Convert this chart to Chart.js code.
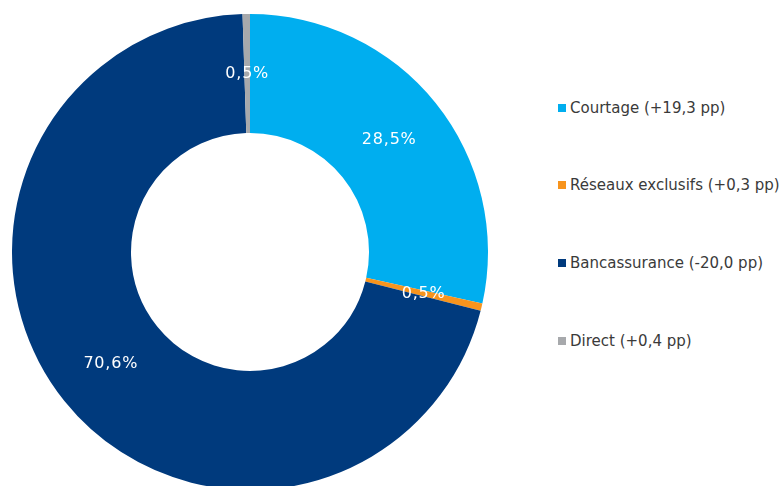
<!DOCTYPE html>
<html lang="fr">
<head>
<meta charset="utf-8">
<title>Répartition par canal</title>
<script src="https://cdn.jsdelivr.net/npm/chart.js@4"></script>
<style>
  html, body { margin: 0; padding: 0; background: #fff; overflow: hidden; }
  body { width: 779px; height: 486px; position: relative; font-family: "DejaVu Sans", Verdana, sans-serif; }
  .chart-box { position: absolute; left: 12px; top: 14px; width: 476px; height: 476px; }
  .legend { position: absolute; left: 558px; top: 98px; margin: 0; padding: 0; list-style: none; }
  .legend li { display: flex; align-items: center; height: 19px; margin-bottom: 58.7px; font-size: 15px; color: #3a3a3a; white-space: nowrap; }
  .legend .swatch { width: 8px; height: 8px; margin-right: 4px; flex: none; }
</style>
</head>
<body>
<div class="chart-box"><canvas id="channelChart"></canvas></div>
<ul class="legend" id="channelLegend"></ul>

<script>
//! Data
const categories = ['Courtage', 'Réseaux exclusifs', 'Bancassurance', 'Direct'];
const shares = [28.5, 0.5, 70.6, 0.5];
const changes = ['+19,3', '+0,3', '-20,0', '+0,4'];
const colors = ['#00AEEF', '#F7941D', '#003A7D', '#A7A9AC'];

const frNumber = v => v.toFixed(1).replace('.', ',');

//! Value labels in the middle of each ring segment
const sliceLabels = {
  id: 'sliceLabels',
  afterDatasetsDraw(chart) {
    const ctx = chart.ctx;
    const meta = chart.getDatasetMeta(0);
    ctx.save();
    ctx.fillStyle = '#fff';
    ctx.font = '16px "DejaVu Sans", Verdana, sans-serif';
    ctx.letterSpacing = '0.8px';
    ctx.textAlign = 'center';
    ctx.textBaseline = 'middle';
    meta.data.forEach((arc, i) => {
      const pos = arc.tooltipPosition();
      ctx.fillText(frNumber(shares[i]) + '%', pos.x, pos.y);
    });
    ctx.restore();
  }
};

const ctx = document.getElementById('channelChart').getContext('2d');

const channelChart = new Chart(ctx, {
  type: 'doughnut',
  data: {
    labels: categories,
    datasets: [{
      data: shares,
      backgroundColor: colors,
      borderWidth: 0,
      hoverOffset: 0
    }]
  },
  options: {
    responsive: true,
    maintainAspectRatio: false,
    animation: false,
    cutout: '50%',
    layout: { padding: 0 },
    plugins: {
      legend: { display: false },
      tooltip: { enabled: false }
    }
  },
  plugins: [sliceLabels]
});

//! Legend on the right
const legendList = document.getElementById('channelLegend');
categories.forEach((name, i) => {
  const li = document.createElement('li');
  const box = document.createElement('span');
  box.className = 'swatch';
  box.style.background = colors[i];
  li.appendChild(box);
  li.appendChild(document.createTextNode(`${name} (${changes[i]} pp)`));
  legendList.appendChild(li);
});
</script>
</body>
</html>
